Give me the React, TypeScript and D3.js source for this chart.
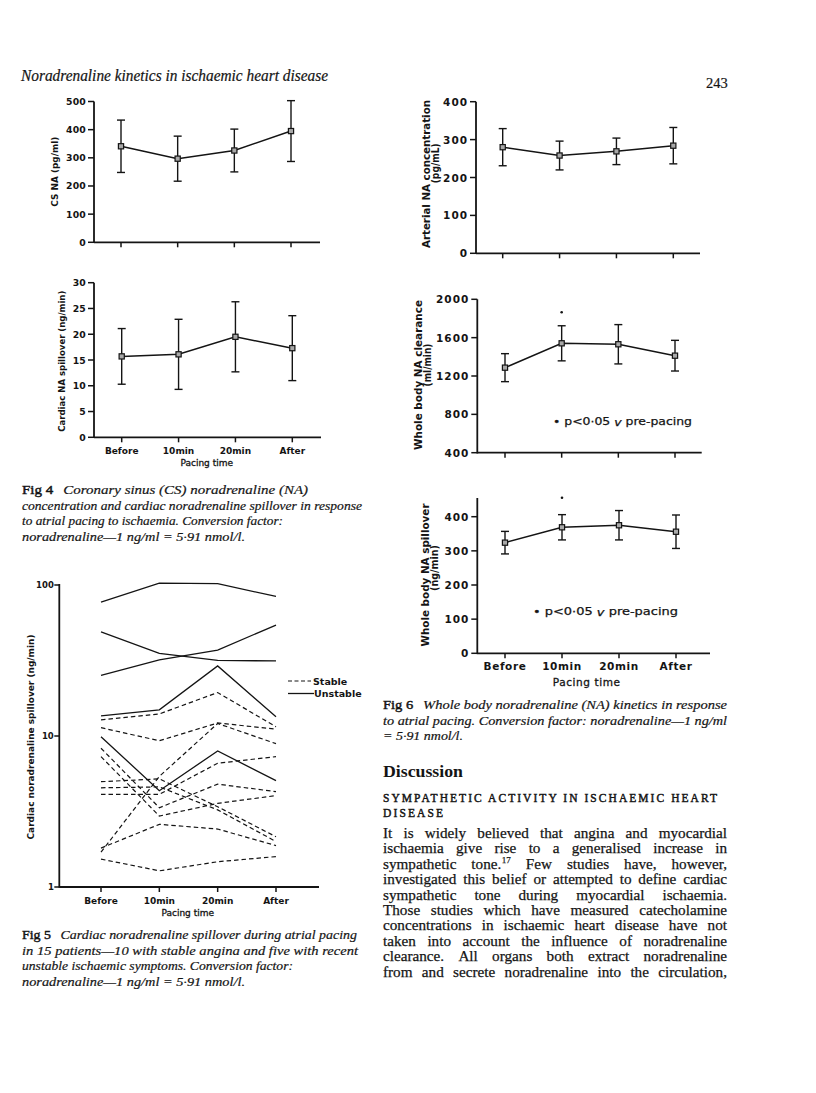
import React from "react";
import * as d3 from "d3";

// ---------------- data ----------------
const CATEGORIES = ["Before", "10min", "20min", "After"];

// Fig 4 (top): coronary sinus NA (pg/ml)
const CS_NA_MEAN = [341, 297, 326, 395];
const CS_NA_SD = [93, 80, 76, 108];
const CS_NA_TICKS = [0, 100, 200, 300, 400, 500];

// Fig 4 (bottom): cardiac NA spillover (ng/min)
const CARD_SP_MEAN = [15.7, 16.1, 19.5, 17.3];
const CARD_SP_SD = [5.4, 6.8, 6.8, 6.3];
const CARD_SP_TICKS = [0, 5, 10, 15, 20, 25, 30];

// Fig 6: arterial NA concentration (pg/ml)
const ART_NA_MEAN = [280, 258, 269, 284];
const ART_NA_SD = [49, 38, 35, 48];
const ART_NA_TICKS = [0, 100, 200, 300, 400];

// Fig 6: whole body NA clearance (ml/min)
const CLEAR_MEAN = [1287, 1541, 1531, 1412];
const CLEAR_SD = [146, 183, 205, 160];
const CLEAR_TICKS = [400, 800, 1200, 1600, 2000];

// Fig 6: whole body NA spillover (ng/min)
const WB_SP_MEAN = [324, 369, 375, 356];
const WB_SP_SD = [33, 37, 43, 49];
const WB_SP_TICKS = [0, 100, 200, 300, 400];

// Fig 5: individual patients, cardiac NA spillover (ng/min), log scale
const UNSTABLE = [
  [77, 103, 102, 84],
  [49, 35.3, 31.7, 31.4],
  [25.2, 31.9, 37.1, 54.3],
  [13.6, 14.9, 29.1, 13.4],
  [9.9, 4.34, 7.96, 5.06],
];
const STABLE = [
  [12.8, 14.0, 19.4, 11.5],
  [11.35, 9.3, 12.2, 11.1],
  [1.7, 5.4, 12.1, 8.9],
  [8.3, 3.35, 4.8, 4.28],
  [7.3, 2.95, 3.58, 4.03],
  [4.98, 5.2, 3.4, 2.15],
  [4.54, 4.6, 3.24, 2.0],
  [4.11, 4.11, 6.6, 7.3],
  [1.81, 2.6, 2.42, 1.88],
  [1.53, 1.28, 1.47, 1.59],
];
const LOG_TICKS = [1, 10, 100];

// ---------------- text ----------------
const HEADER = "Noradrenaline kinetics in ischaemic heart disease";
const PAGE_NO = "243";
const FIG4_CAPTION = [
  "Coronary sinus (CS) noradrenaline (NA)",
  "concentration and cardiac noradrenaline spillover in response",
  "to atrial pacing to ischaemia. Conversion factor:",
  "noradrenaline\u20141 ng/ml = 5\u00b791 nmol/l.",
];
const FIG5_CAPTION = [
  "Cardiac noradrenaline spillover during atrial pacing",
  "in 15 patients\u201410 with stable angina and five with recent",
  "unstable ischaemic symptoms. Conversion factor:",
  "noradrenaline\u20141 ng/ml = 5\u00b791 nmol/l.",
];
const FIG6_CAPTION = [
  "Whole body noradrenaline (NA) kinetics in response",
  "to atrial pacing. Conversion factor: noradrenaline\u20141 ng/ml",
  "= 5\u00b791 nmol/l.",
];
const BODY_LINES = [
  "It is widely believed that angina and myocardial",
  "ischaemia give rise to a generalised increase in",
  "sympathetic tone.^17 Few studies have, however,",
  "investigated this belief or attempted to define cardiac",
  "sympathetic tone during myocardial ischaemia.",
  "Those studies which have measured catecholamine",
  "concentrations in ischaemic heart disease have not",
  "taken into account the influence of noradrenaline",
  "clearance. All organs both extract noradrenaline",
  "from and secrete noradrenaline into the circulation,",
];

// ---------------- styles ----------------
const SANS = "'DejaVu Sans', sans-serif";
const SERIF = "'Liberation Serif', 'Times New Roman', serif";
const INK = "#141414";

let _ctx: CanvasRenderingContext2D | null = null;
function measure(text: string, font: string): number {
  if (!_ctx) _ctx = document.createElement("canvas").getContext("2d");
  if (!_ctx) return text.length * 7;
  _ctx.font = font;
  return _ctx.measureText(text).width;
}

type Title = { text: string; x: number; y: number; len: number };

type ChartProps = {
  x0: number;
  xFirst: number;
  xLast: number;
  xEnd: number;
  yBottom: number;
  yTop: number;
  domain: [number, number];
  ticks: number[];
  mean: number[];
  sd: number[];
  fs: number;
  tickLS: number;
  axisTop?: number;
  titles: Title[];
  titleFs: number;
  xLabels?: { y: number; titleX: number; titleY: number; fs: number; ls: number };
  star?: number;
  note?: { x: number; y: number; len: number };
};

function ErrorChart(p: ChartProps) {
  const y = d3.scaleLinear().domain(p.domain).range([p.yBottom, p.yTop]);
  const x = d3.scalePoint<string>().domain(CATEGORIES).range([p.xFirst, p.xLast]);
  const line = d3
    .line<number>()
    .x((_, i) => x(CATEGORIES[i]) as number)
    .y((d) => y(d));
  const y0 = y(p.domain[0]);
  const axisTop = p.axisTop ?? y(p.domain[1]);
  return (
    <g fill={INK} stroke="none" fontFamily={SANS} fontWeight="bold">
      <line x1={p.x0} x2={p.x0} y1={y0 + 0.8} y2={axisTop} stroke={INK} strokeWidth={1.8} />
      <line x1={p.x0} x2={p.xEnd} y1={y0} y2={y0} stroke={INK} strokeWidth={1.8} />
      {p.ticks.map((t) => (
        <g key={t}>
          <line x1={p.x0 - 6} x2={p.x0} y1={y(t)} y2={y(t)} stroke={INK} strokeWidth={1.5} />
          <text
            x={p.x0 - 8}
            y={y(t)}
            textAnchor="end"
            dominantBaseline="central"
            fontSize={p.fs}
            letterSpacing={p.tickLS}
          >
            {t}
          </text>
        </g>
      ))}
      {CATEGORIES.map((c) => (
        <line key={c} x1={x(c)} x2={x(c)} y1={y0} y2={y0 + 5} stroke={INK} strokeWidth={1.5} />
      ))}
      {p.xLabels &&
        CATEGORIES.map((c) => (
          <text
            key={"l" + c}
            x={x(c)}
            y={p.xLabels!.y}
            textAnchor="middle"
            fontSize={p.xLabels!.fs}
            letterSpacing={p.xLabels!.ls}
          >
            {c}
          </text>
        ))}
      {p.xLabels && (
        <text
          x={p.xLabels.titleX}
          y={p.xLabels.titleY}
          textAnchor="middle"
          fontSize={p.xLabels.fs}
          fontWeight="normal"
          letterSpacing={p.xLabels.ls}
          stroke={INK}
          strokeWidth={0.3}
        >
          Pacing time
        </text>
      )}
      {p.titles.map((t, i) => (
        <text
          key={"t" + i}
          transform={`translate(${t.x},${t.y}) rotate(-90)`}
          textAnchor="middle"
          dominantBaseline="central"
          fontSize={p.titleFs}
          textLength={t.len}
          lengthAdjust="spacingAndGlyphs"
        >
          {t.text}
        </text>
      ))}
      {/* error bars */}
      {p.mean.map((m, i) => {
        const cx = x(CATEGORIES[i]) as number;
        const hi = y(m + p.sd[i]);
        const lo = y(m - p.sd[i]);
        return (
          <g key={"e" + i} stroke={INK} strokeWidth={1.4}>
            <line x1={cx} x2={cx} y1={hi} y2={lo} />
            <line x1={cx - 4} x2={cx + 4} y1={hi} y2={hi} />
            <line x1={cx - 4} x2={cx + 4} y1={lo} y2={lo} />
          </g>
        );
      })}
      <path d={line(p.mean) || ""} fill="none" stroke={INK} strokeWidth={1.5} />
      {p.mean.map((m, i) => {
        const cx = x(CATEGORIES[i]) as number;
        return (
          <rect
            key={"m" + i}
            x={cx - 2.6}
            y={y(m) - 2.6}
            width={5.2}
            height={5.2}
            fill="#a8a8a8"
            stroke={INK}
            strokeWidth={1.2}
          />
        );
      })}
      {p.star !== undefined && <circle cx={x(CATEGORIES[1])} cy={p.star} r={1.3} fill={INK} />}
      {p.note && (
        <text
          x={p.note.x}
          y={p.note.y}
          dominantBaseline="central"
          fontSize={11}
          fontWeight="normal"
          stroke={INK}
          strokeWidth={0.25}
          textLength={p.note.len}
          lengthAdjust="spacingAndGlyphs"
        >
          {"\u2022 p<0\u00b705 "}
          <tspan fontStyle="italic">v</tspan>
          {" pre-pacing"}
        </text>
      )}
    </g>
  );
}

function Fig5() {
  const y = d3.scaleLog().domain([1, 100]).range([887, 585]);
  const x = d3.scalePoint<string>().domain(CATEGORIES).range([101, 276]);
  const x0 = 59.3;
  const line = d3
    .line<number>()
    .x((_, i) => x(CATEGORIES[i]) as number)
    .y((d) => y(d));
  return (
    <g fill={INK} fontFamily={SANS} fontWeight="bold">
      <line x1={x0} x2={x0} y1={887.8} y2={584} stroke={INK} strokeWidth={1.8} />
      <line x1={x0} x2={319} y1={887} y2={887} stroke={INK} strokeWidth={1.8} />
      {LOG_TICKS.map((t) => (
        <g key={t}>
          <line x1={x0 - 5} x2={x0} y1={y(t)} y2={y(t)} stroke={INK} strokeWidth={1.5} />
          <text x={x0 - 5.5} y={y(t)} textAnchor="end" dominantBaseline="central" fontSize={8.5}>
            {t}
          </text>
        </g>
      ))}
      {CATEGORIES.map((c) => (
        <g key={c}>
          <line x1={x(c)} x2={x(c)} y1={887} y2={892} stroke={INK} strokeWidth={1.5} />
          <text x={x(c)} y={903.5} textAnchor="middle" fontSize={9}>
            {c}
          </text>
        </g>
      ))}
      <text
        x={187.7}
        y={916}
        textAnchor="middle"
        fontSize={9}
        fontWeight="normal"
        stroke={INK}
        strokeWidth={0.3}
      >
        Pacing time
      </text>
      <text
        transform="translate(31,737) rotate(-90)"
        textAnchor="middle"
        dominantBaseline="central"
        fontSize={8.5}
        textLength={205}
        lengthAdjust="spacingAndGlyphs"
      >
        Cardiac noradrenaline spillover (ng/min)
      </text>
      {STABLE.map((s, i) => (
        <path
          key={"s" + i}
          d={line(s) || ""}
          fill="none"
          stroke={INK}
          strokeWidth={1.2}
          strokeDasharray="4.5 3"
        />
      ))}
      {UNSTABLE.map((s, i) => (
        <path key={"u" + i} d={line(s) || ""} fill="none" stroke={INK} strokeWidth={1.3} />
      ))}
      <line x1={288} x2={311} y1={681} y2={681} stroke={INK} strokeWidth={1.2} strokeDasharray="4 2.5" />
      <text x={313} y={681} dominantBaseline="central" fontSize={9.5}>
        Stable
      </text>
      <line x1={288} x2={314} y1={693.5} y2={693.5} stroke={INK} strokeWidth={1.3} />
      <text x={314} y={693.5} dominantBaseline="central" fontSize={9.5}>
        Unstable
      </text>
    </g>
  );
}

function Caption({
  fig,
  lines,
  x,
  y0,
  lead,
  ends,
}: {
  fig: string;
  lines: string[];
  x: number;
  y0: number;
  lead: number;
  ends: number[];
}) {
  return (
    <g fontFamily={SERIF} fontSize={13.2} fill={INK} stroke={INK} strokeWidth={0.2}>
      {lines.map((l, i) => (
        <text
          key={i}
          x={x}
          y={y0 + i * lead}
          textLength={ends[i] - x}
          lengthAdjust="spacingAndGlyphs"
        >
          {i === 0 && (
            <tspan fontStyle="normal" strokeWidth={0.45}>
              {fig}
            </tspan>
          )}
          <tspan fontStyle="italic" dx={i === 0 ? 9 : 0}>
            {l}
          </tspan>
        </text>
      ))}
    </g>
  );
}

function Body() {
  const fs = 15.2;
  const font = `${fs}px 'Liberation Serif'`;
  const supFont = `${fs * 0.6}px 'Liberation Serif'`;
  const x0 = 383;
  const width = 344;
  const lead = 15.4;
  const base = 838;
  return (
    <g fontFamily={SERIF} fontSize={fs} fill={INK} stroke={INK} strokeWidth={0.25}>
      {BODY_LINES.map((ln, li) => {
        const words = ln.split(" ").map((w) => {
          const [t, sup] = w.split("^");
          return { t, sup };
        });
        const widths = words.map(
          (w) => measure(w.t, font) + (w.sup ? measure(w.sup, supFont) + 0.5 : 0)
        );
        const total = widths.reduce((a, b) => a + b, 0);
        const gap = (width - total) / (words.length - 1);
        let cx = x0;
        const yy = base + li * lead;
        return (
          <g key={li}>
            {words.map((w, wi) => {
              const el = (
                <text key={wi} x={cx} y={yy}>
                  {w.t}
                  {w.sup && (
                    <tspan fontSize={fs * 0.6} dy={-6} dx={0.5}>
                      {w.sup}
                    </tspan>
                  )}
                </text>
              );
              cx += widths[wi] + gap;
              return el;
            })}
          </g>
        );
      })}
    </g>
  );
}

export default function App() {
  return (
    <svg
      width={816}
      height={1093}
      viewBox="0 0 816 1093"
      style={{ position: "absolute", left: 0, top: 0, background: "#fff" }}
    >
      <rect x={0} y={0} width={816} height={1093} fill="#fff" />
      {/* running header */}
      <text
        x={21}
        y={81}
        fontFamily={SERIF}
        fontStyle="italic"
        fontSize={16}
        fill={INK}
        stroke={INK}
        strokeWidth={0.2}
        textLength={307}
        lengthAdjust="spacingAndGlyphs"
      >
        {HEADER}
      </text>
      <text x={706} y={88} fontFamily={SERIF} fontSize={14.5} fill={INK} stroke={INK} strokeWidth={0.2}>
        {PAGE_NO}
      </text>

      {/* Fig 4 top */}
      <ErrorChart
        x0={94}
        xFirst={121}
        xLast={291}
        xEnd={320}
        yBottom={242.3}
        yTop={101.5}
        domain={[0, 500]}
        ticks={CS_NA_TICKS}
        mean={CS_NA_MEAN}
        sd={CS_NA_SD}
        fs={9.3}
        tickLS={0.2}
        titles={[{ text: "CS NA (pg/ml)", x: 55, y: 171.7, len: 70 }]}
        titleFs={8.8}
      />
      {/* Fig 4 bottom */}
      <ErrorChart
        x0={94}
        xFirst={121.7}
        xLast={292.3}
        xEnd={321}
        yBottom={437.3}
        yTop={282.7}
        domain={[0, 30]}
        ticks={CARD_SP_TICKS}
        mean={CARD_SP_MEAN}
        sd={CARD_SP_SD}
        fs={9.3}
        tickLS={0.2}
        titles={[{ text: "Cardiac NA spillover (ng/min)", x: 61.7, y: 361.2, len: 141 }]}
        titleFs={8.8}
        xLabels={{ y: 453.5, titleX: 206.7, titleY: 465.5, fs: 9, ls: 0 }}
      />
      <Caption
        fig="Fig 4"
        lines={FIG4_CAPTION}
        x={22}
        y0={494}
        lead={15.6}
        ends={[308, 362, 283, 245]}
      />

      <Fig5 />
      <Caption
        fig="Fig 5"
        lines={FIG5_CAPTION}
        x={22}
        y0={939}
        lead={15.6}
        ends={[357, 358, 293, 245]}
      />

      {/* Fig 6 */}
      <ErrorChart
        x0={476}
        xFirst={502.7}
        xLast={673.3}
        xEnd={700}
        yBottom={253.3}
        yTop={101.7}
        domain={[0, 400]}
        ticks={ART_NA_TICKS}
        mean={ART_NA_MEAN}
        sd={ART_NA_SD}
        fs={10.5}
        tickLS={1}
        titles={[
          { text: "Arterial NA concentration", x: 426, y: 174, len: 148 },
          { text: "(pg/mL)", x: 435, y: 163.3, len: 40 },
        ]}
        titleFs={10.5}
      />
      <ErrorChart
        x0={477.3}
        xFirst={505}
        xLast={675}
        xEnd={701.7}
        yBottom={452.7}
        yTop={299.3}
        domain={[400, 2000]}
        ticks={CLEAR_TICKS}
        mean={CLEAR_MEAN}
        sd={CLEAR_SD}
        fs={10.5}
        tickLS={1}
        titles={[
          { text: "Whole body NA clearance", x: 418.3, y: 375, len: 150 },
          { text: "(ml/min)", x: 427.3, y: 365, len: 43 },
        ]}
        titleFs={10.5}
        star={312.3}
        note={{ x: 553, y: 421.7, len: 139 }}
      />
      <ErrorChart
        x0={477.3}
        xFirst={505}
        xLast={676}
        xEnd={710}
        yBottom={653.3}
        yTop={516.7}
        domain={[0, 400]}
        axisTop={498}
        ticks={WB_SP_TICKS}
        mean={WB_SP_MEAN}
        sd={WB_SP_SD}
        fs={10.5}
        tickLS={1}
        titles={[
          { text: "Whole body NA spillover", x: 425, y: 575, len: 143 },
          { text: "(ng/min)", x: 434, y: 568, len: 46 },
        ]}
        titleFs={10.5}
        star={497.7}
        note={{ x: 533, y: 611.7, len: 145 }}
        xLabels={{ y: 670, titleX: 586.7, titleY: 685.5, fs: 10.5, ls: 0.6 }}
      />
      <Caption
        fig="Fig 6"
        lines={FIG6_CAPTION}
        x={383}
        y0={709}
        lead={15.5}
        ends={[727, 727, 463]}
      />

      {/* Discussion */}
      <text
        x={383}
        y={777}
        fontFamily={SERIF}
        fontWeight="bold"
        fontSize={17}
        fill={INK}
        textLength={80}
        lengthAdjust="spacingAndGlyphs"
      >
        Discussion
      </text>
      <text
        x={383}
        y={802}
        fontFamily={SERIF}
        fontSize={11.5}
        fill={INK}
        stroke={INK}
        strokeWidth={0.45}
        textLength={334}
        lengthAdjust="spacing"
      >
        SYMPATHETIC ACTIVITY IN ISCHAEMIC HEART
      </text>
      <text
        x={383}
        y={817}
        fontFamily={SERIF}
        fontSize={11.5}
        fill={INK}
        stroke={INK}
        strokeWidth={0.45}
        textLength={60}
        lengthAdjust="spacing"
      >
        DISEASE
      </text>
      <Body />
    </svg>
  );
}
